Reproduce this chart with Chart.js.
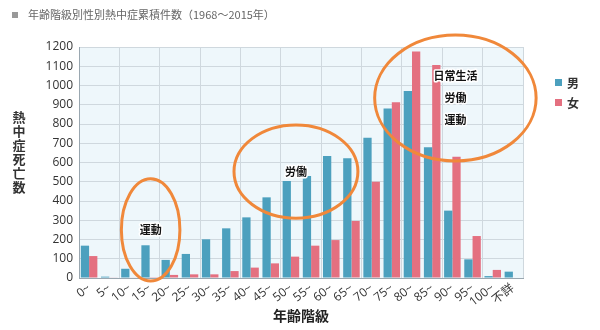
<!DOCTYPE html>
<html>
<head>
<meta charset="utf-8">
<script src="https://cdn.jsdelivr.net/npm/chart.js@4/dist/chart.umd.min.js"></script>
<style>
  html, body { margin: 0; background: #fff; }
</style>
</head>
<body>
<canvas id="heatChart" width="600" height="330"></canvas>
<script>
// 年齢階級
const ageGroups = ['0~', '5~', '10~', '15~', '20~', '25~', '30~', '35~', '40~', '45~', '50~',
  '55~', '60~', '65~', '70~', '75~', '80~', '85~', '90~', '95~', '100~', '不詳'];

// 熱中症死亡数（累積）
const maleDeaths = [168, 7, 48, 170, 94, 125, 201, 258, 315, 419, 504,
  530, 634, 622, 729, 881, 971, 679, 350, 97, 10, 33];
const femaleDeaths = [114, 2, 3, 4, 16, 19, 19, 36, 54, 76, 111,
  168, 197, 296, 500, 913, 1176, 1106, 630, 218, 42, 0];

const seriesNames = ['男', '女'];
const seriesColors = ['rgb(76,160,190)', 'rgb(228,112,128)'];

// 丸で囲む区間と注記（x: 階級インデックス, y: 件数）
const callouts = [
  { x: 3.05, y: 250, rx: 1.45, ry: 265, lines: ['運動'] },
  { x: 10.25, y: 553, rx: 3.07, ry: 242, lines: ['労働'] },
  { x: 18.15, y: 935, rx: 4.0, ry: 327, lines: ['日常生活', '労働', '運動'] }
];

const FONT = '"Noto Sans CJK JP", "Noto Sans", sans-serif';
const NUM_FONT = '"Open Sans", "Noto Sans CJK JP", sans-serif';
const GRID = '#cfd8de';

const decor = {
  id: 'decor',
  beforeDraw(chart) {
    const { ctx, chartArea: a } = chart;
    ctx.save();
    ctx.fillStyle = '#eef7fb';
    ctx.fillRect(a.left, a.top, a.right - a.left, a.bottom - a.top);
    ctx.restore();
  },
  afterDraw(chart) {
    const { ctx, scales } = chart;
    ctx.save();

    // 見出し
    ctx.fillStyle = '#999';
    ctx.fillRect(12, 12, 6, 6);
    ctx.fillStyle = '#666';
    ctx.font = '11px ' + FONT;
    ctx.textBaseline = 'middle';
    ctx.textAlign = 'left';
    ctx.fillText('年齢階級別性別熱中症累積件数（1968〜2015年）', 28, 15);

    // 縦書きの軸タイトル
    ctx.fillStyle = '#333';
    ctx.font = 'bold 13px ' + FONT;
    ctx.textAlign = 'center';
    [...'熱中症死亡数'].forEach((ch, i) => ctx.fillText(ch, 19, 117 + i * 14));

    // 凡例
    ctx.font = 'bold 12px ' + FONT;
    ctx.textAlign = 'left';
    seriesNames.forEach((name, i) => {
      ctx.fillStyle = seriesColors[i];
      ctx.fillRect(555, 79 + i * 20, 7, 7);
      ctx.fillStyle = '#333';
      ctx.fillText(name, 567, 83 + i * 20);
    });

    // 囲みと注記
    callouts.forEach(c => {
      const cx = scales.x.getPixelForValue(c.x);
      const cy = scales.y.getPixelForValue(c.y);
      const rx = scales.x.getPixelForValue(c.x + c.rx) - cx;
      const ry = cy - scales.y.getPixelForValue(c.y + c.ry);
      ctx.beginPath();
      ctx.ellipse(cx, cy, rx, ry, 0, 0, Math.PI * 2);
      ctx.strokeStyle = '#f0883a';
      ctx.lineWidth = 3;
      ctx.stroke();

      ctx.font = 'bold 11px ' + FONT;
      ctx.textAlign = 'center';
      ctx.lineJoin = 'round';
      const top = cy - (c.lines.length - 1) * 11;
      c.lines.forEach((t, i) => {
        ctx.strokeStyle = '#fff';
        ctx.lineWidth = 3;
        ctx.strokeText(t, cx, top + i * 22);
        ctx.fillStyle = '#111';
        ctx.fillText(t, cx, top + i * 22);
      });
    });
    ctx.restore();
  }
};

new Chart(document.getElementById('heatChart'), {
  type: 'bar',
  data: {
    labels: ageGroups,
    datasets: [
      { label: seriesNames[0], data: maleDeaths, backgroundColor: seriesColors[0] },
      { label: seriesNames[1], data: femaleDeaths, backgroundColor: seriesColors[1] }
    ]
  },
  options: {
    responsive: false,
    devicePixelRatio: 1,
    animation: false,
    datasets: { bar: { categoryPercentage: 0.82, barPercentage: 1.0 } },
    layout: { padding: { top: 47, right: 77, bottom: 0, left: 0 } },
    plugins: { legend: { display: false }, title: { display: false }, tooltip: { enabled: false } },
    scales: {
      x: {
        grid: {
          color: c => (c.type !== 'tick' || c.index % 2 === 0) ? GRID : 'transparent',
          drawTicks: false
        },
        border: { color: '#9aa7b0' },
        ticks: { autoSkip: false, minRotation: 38, maxRotation: 38, padding: 3, color: '#333', font: { size: 12, family: NUM_FONT } },
        title: { display: true, text: '年齢階級', color: '#222', font: { size: 14, weight: 'bold', family: FONT }, padding: { top: 0, bottom: 6 } },
        afterFit: s => { s.height = 52; }
      },
      y: {
        min: 0,
        max: 1200,
        grid: { color: GRID, drawTicks: false },
        border: { color: '#9aa7b0' },
        ticks: { stepSize: 100, padding: 6, color: '#333', font: { size: 12, family: NUM_FONT }, callback: v => String(v) },
        afterFit: s => { s.width = 79; }
      }
    }
  },
  plugins: [decor]
});
</script>
</body>
</html>
